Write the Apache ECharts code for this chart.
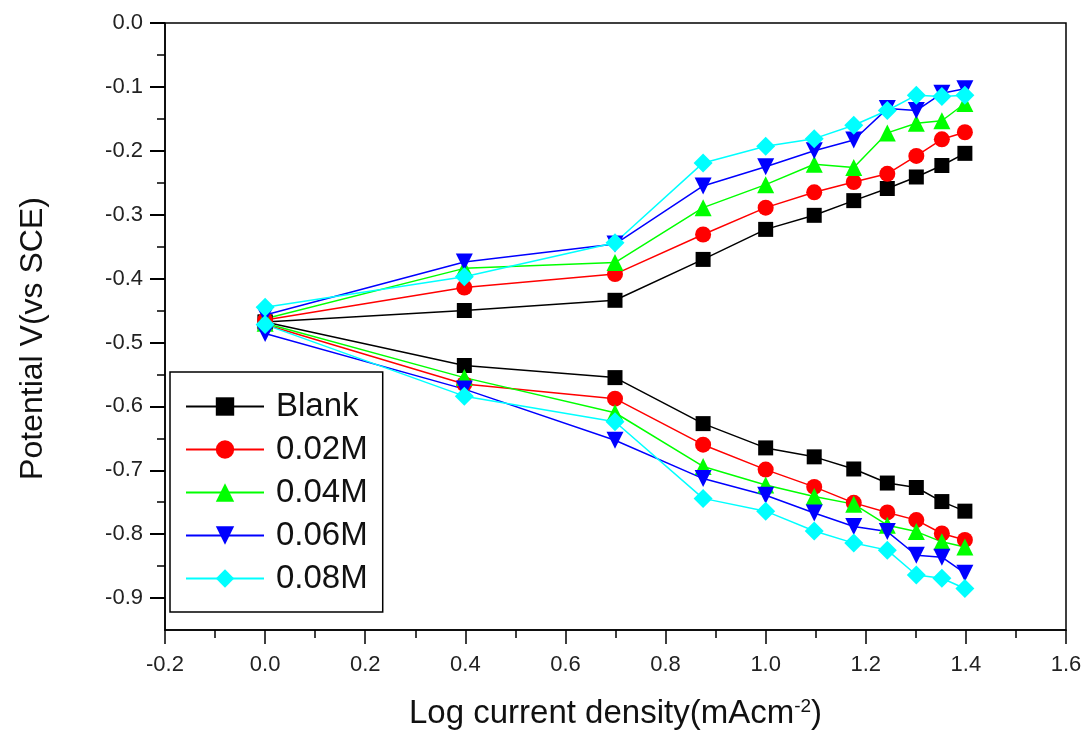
<!DOCTYPE html>
<html>
<head>
<meta charset="utf-8">
<script src="https://cdn.jsdelivr.net/npm/echarts@6/dist/echarts.min.js"></script>
<style>
  html, body { margin: 0; padding: 0; background: #fff; }
  #chart { width: 1092px; height: 744px; }
</style>
</head>
<body>
<div id="chart"></div>
<script>
// log current density (x) shared by every branch
const logI = [0, 0.398, 0.699, 0.875, 1.0, 1.097, 1.176, 1.243, 1.301, 1.352, 1.398];

// anodic (upper) branches
const blankAnodic = [-0.468, -0.450, -0.434, -0.370, -0.323, -0.301, -0.278, -0.259, -0.241, -0.223, -0.204];
const m002Anodic = [-0.465, -0.414, -0.393, -0.331, -0.289, -0.265, -0.249, -0.236, -0.208, -0.182, -0.171];
const m004Anodic = [-0.463, -0.384, -0.375, -0.289, -0.253, -0.221, -0.226, -0.172, -0.157, -0.153, -0.126];
const m006Anodic = [-0.457, -0.374, -0.346, -0.255, -0.225, -0.200, -0.183, -0.134, -0.137, -0.110, -0.103];
const m008Anodic = [-0.445, -0.397, -0.344, -0.219, -0.193, -0.181, -0.160, -0.137, -0.113, -0.115, -0.113];

// cathodic (lower) branches
const blankCathodic = [-0.468, -0.536, -0.555, -0.627, -0.665, -0.679, -0.698, -0.720, -0.727, -0.749, -0.764];
const m002Cathodic = [-0.472, -0.565, -0.588, -0.660, -0.699, -0.726, -0.751, -0.766, -0.778, -0.799, -0.809];
const m004Cathodic = [-0.470, -0.555, -0.610, -0.694, -0.723, -0.741, -0.753, -0.786, -0.796, -0.812, -0.820];
const m006Cathodic = [-0.486, -0.573, -0.653, -0.713, -0.739, -0.767, -0.788, -0.796, -0.833, -0.836, -0.861];
const m008Cathodic = [-0.472, -0.584, -0.624, -0.744, -0.764, -0.795, -0.814, -0.825, -0.864, -0.869, -0.885];

const seriesNames = ['Blank', '0.02M', '0.04M', '0.06M', '0.08M'];

// axis ranges
const xRange = [-0.2, 1.6];
const yRange = [-0.95, 0];     // full frame
const yTickRange = [-0.9, 0];  // labelled part of the y axis, step 0.1

const FONT = '"Liberation Sans", Arial, Helvetica, sans-serif';

// plot frame in px
const GRID_LEFT = 165, GRID_RIGHT = 26, GRID_TOP = 23, GRID_BOTTOM = 114;
const GRID_H = 744 - GRID_TOP - GRID_BOTTOM;

// style per concentration
const styles = [
  {color: '#000000', symbol: 'rect', size: 15, rotate: 0},
  {color: '#ff0000', symbol: 'circle', size: 16, rotate: 0},
  {color: '#00ff00', symbol: 'triangle', size: 17, rotate: 0},
  {color: '#0000ff', symbol: 'triangle', size: 17, rotate: 180},
  {color: '#00ffff', symbol: 'diamond', size: 19, rotate: 0}
];

const anodic = [blankAnodic, m002Anodic, m004Anodic, m006Anodic, m008Anodic];
const cathodic = [blankCathodic, m002Cathodic, m004Cathodic, m006Cathodic, m008Cathodic];

const makeSeries = (name, ys, st) => ({
  name: name,
  type: 'line',
  data: logI.map((x, i) => [x, ys[i]]),
  symbol: st.symbol,
  symbolSize: st.size,
  symbolRotate: st.rotate,
  itemStyle: {color: st.color},
  lineStyle: {color: st.color, width: 1.5}
});

const series = [];
seriesNames.forEach((name, k) => {
  series.push(makeSeries(name, anodic[k], styles[k]));
  series.push(makeSeries(name, cathodic[k], styles[k]));
});

const chart = echarts.init(document.getElementById('chart'));

// the tick grid covers 0 .. -0.9 of the main frame, so ticks can step by 0.1
const tickGridH = GRID_H * (yTickRange[1] - yTickRange[0]) / (yRange[1] - yRange[0]);

const option = {
  animation: false,
  grid: [
    {
      left: GRID_LEFT, right: GRID_RIGHT, top: GRID_TOP, bottom: GRID_BOTTOM,
      show: true, borderColor: '#000', borderWidth: 1.5
    },
    {left: GRID_LEFT, right: GRID_RIGHT, top: GRID_TOP, height: tickGridH}
  ],
  legend: {
    data: seriesNames,
    orient: 'vertical',
    left: 170, top: 372,
    padding: [18, 15, 17, 15],
    itemWidth: 78, itemHeight: 23, itemGap: 10,
    backgroundColor: '#fff',
    borderColor: '#000', borderWidth: 1.5, borderRadius: 0,
    textStyle: {fontSize: 33, color: '#111', fontFamily: FONT, padding: [0, 0, 0, 7]}
  },
  xAxis: [
    {
      type: 'value',
      gridIndex: 0,
      min: xRange[0], max: xRange[1], interval: 0.2,
      name: 'Log current density(mAcm{sup|-2})',
      nameLocation: 'middle',
      nameGap: 67,
      nameTextStyle: {
        fontSize: 33, color: '#111', fontFamily: FONT,
        rich: {sup: {fontSize: 19, verticalAlign: 'top', color: '#111', fontFamily: FONT, padding: [0, 0, 13, 0]}}
      },
      axisLine: {show: true, onZero: false, lineStyle: {color: '#000', width: 1.5}},
      axisTick: {show: true, length: 14, lineStyle: {color: '#000', width: 1.5}},
      minorTick: {show: true, splitNumber: 2, length: 8, lineStyle: {color: '#000', width: 1.5}},
      axisLabel: {fontSize: 22, color: '#222', fontFamily: FONT, margin: 24, formatter: v => v.toFixed(1)},
      splitLine: {show: false}
    },
    {type: 'value', gridIndex: 1, show: false, min: xRange[0], max: xRange[1]}
  ],
  yAxis: [
    {
      type: 'value',
      gridIndex: 0,
      min: yRange[0], max: yRange[1],
      name: 'Potential V(vs SCE)',
      nameLocation: 'middle',
      nameGap: 116,
      nameTextStyle: {fontSize: 32, color: '#111', fontFamily: FONT, padding: [0, 24, 0, 0]},
      axisLine: {show: true, onZero: false, lineStyle: {color: '#000', width: 1.5}},
      axisTick: {show: false},
      axisLabel: {show: false},
      splitLine: {show: false}
    },
    {
      type: 'value',
      gridIndex: 1,
      min: yTickRange[0], max: yTickRange[1], interval: 0.1,
      axisLine: {show: false, onZero: false},
      axisTick: {show: true, length: 15, lineStyle: {color: '#000', width: 2}},
      minorTick: {show: true, splitNumber: 2, length: 8, lineStyle: {color: '#000', width: 1.5}},
      axisLabel: {fontSize: 22, color: '#222', fontFamily: FONT, margin: 22, formatter: v => v.toFixed(1)},
      splitLine: {show: false}
    }
  ],
  series: series
};

chart.setOption(option);
</script>
</body>
</html>
